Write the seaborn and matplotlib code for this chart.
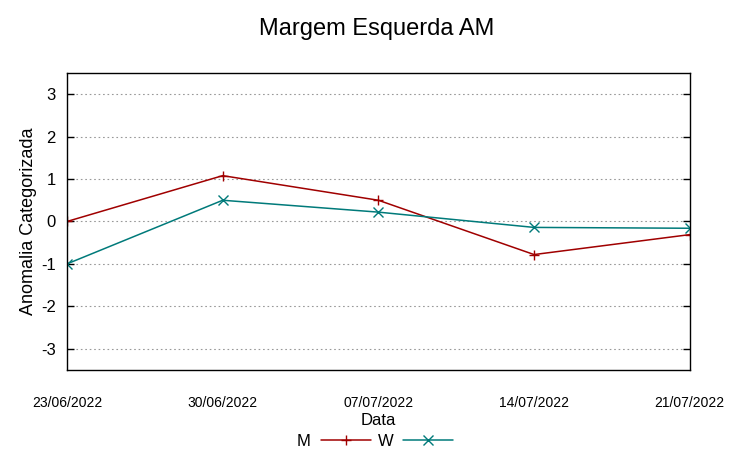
import matplotlib
matplotlib.use("Agg")
import matplotlib.pyplot as plt
import pandas as pd
import seaborn as sns

dates = ["23/06/2022", "30/06/2022", "07/07/2022", "14/07/2022", "21/07/2022"]
m_values = [0.0, 1.08, 0.5, -0.78, -0.31]
w_values = [-1.0, 0.5, 0.22, -0.14, -0.16]
y_ticks = [-3, -2, -1, 0, 1, 2, 3]

df = pd.DataFrame({
    "Data": pd.to_datetime(dates * 2, format="%d/%m/%Y"),
    "valor": m_values + w_values,
    "serie": ["M"] * len(dates) + ["W"] * len(dates),
})

sns.set_theme(style="white")
plt.rcParams["font.family"] = ["Liberation Sans", "DejaVu Sans"]
plt.rcParams["text.color"] = "black"
plt.rcParams["axes.labelcolor"] = "black"
plt.rcParams["xtick.color"] = "black"
plt.rcParams["ytick.color"] = "black"

fig = plt.figure(figsize=(7.53, 4.59), dpi=100)
ax = fig.add_axes([0.089, 0.194, 0.827, 0.647])

sns.lineplot(
    data=df, x="Data", y="valor", hue="serie", style="serie",
    palette={"M": "#a00000", "W": "#007a7a"},
    markers={"M": "+", "W": "x"}, dashes=False,
    markersize=7, markeredgewidth=1.0, linewidth=1.1, ax=ax,
)
for ln in ax.lines:
    ln.set_markeredgecolor(ln.get_color())

ax.set_ylim(-3.5, 3.5)
ax.set_yticks(y_ticks)
ax.set_yticklabels([str(t) for t in y_ticks], fontsize=12)
xd = pd.to_datetime(dates, format="%d/%m/%Y")
ax.set_xlim(xd[0], xd[-1])
ax.set_xticks(xd)
ax.set_xticklabels(dates, fontsize=10)
ax.tick_params(axis="x", length=0, pad=19)
ax.tick_params(axis="y", direction="in", length=5, width=1, color="black",
               left=True, right=True, pad=8)
ax.grid(axis="y", linestyle=(0, (1.5, 2.5)), color="#999999", linewidth=0.8)
for s in ax.spines.values():
    s.set_color("black")
    s.set_linewidth(1.0)

ax.set_xlabel("Data", fontsize=12, labelpad=2)
ax.set_ylabel("Anomalia Categorizada", fontsize=13, labelpad=3)
fig.suptitle("Margem Esquerda AM", fontsize=17, y=0.96)

fig.text(1.018, 0.51, "Anomalia Categorizada", rotation=90, fontsize=13,
         ha="center", va="center")

handles, labels = ax.get_legend_handles_labels()
for h in handles:
    h.set_markeredgecolor(h.get_color())
ax.legend(handles, labels, loc="center", bbox_to_anchor=(0.495, -0.24),
          ncol=2, frameon=False, markerfirst=False, fontsize=12,
          handlelength=3, columnspacing=0.4, handletextpad=0.6, borderpad=0)

fig.savefig("out.png", dpi=100)
